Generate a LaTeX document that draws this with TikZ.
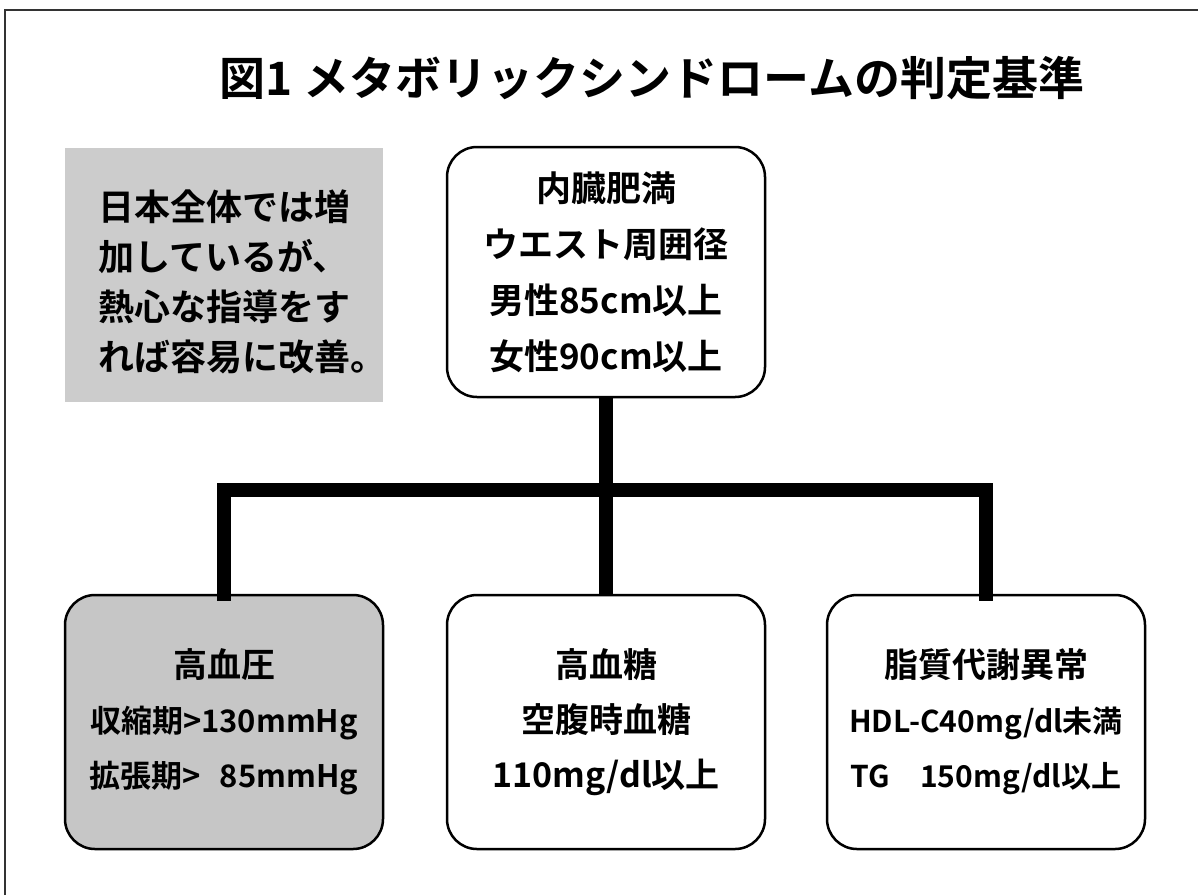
\documentclass[tikz,border=0pt]{standalone}
\usepackage{fontspec}
\setmainfont{Noto Sans CJK JP}[BoldFont={* Bold}]
\begin{document}
\begin{tikzpicture}[x=1pt,y=-1pt,
  rbox/.style={draw=black, line width=2.5pt, rounded corners=30pt, minimum width=318pt, minimum height=254pt, inner sep=0pt, align=center},
  gbox/.style={fill=gray!45},
  conn/.style={line width=14pt, line cap=butt},
  boxfont/.style={font=\bfseries\fontsize{35}{56}\selectfont},
  lowfont/.style={font=\bfseries\fontsize{34}{55}\selectfont}]
\useasboundingbox (0,0) rectangle (1198,895);
% frame
\draw[line width=2pt, color=black!80] (5,895) -- (5,10) -- (1198,10);
% title
\node[font=\bfseries\fontsize{46}{50}\selectfont, anchor=base] (title) at (652,95) {図1 メタボリックシンドロームの判定基準};
% note box
\node[fill=gray!40, minimum width=318pt, minimum height=254pt, anchor=north west, inner sep=0pt] (note) at (65,148) {};
\node[boxfont, font=\bfseries\fontsize{36}{50}\selectfont, align=left, anchor=west] (notetext) at (95,282) {日本全体では増\\加しているが、\\熱心な指導をす\\れば容易に改善。};
% top node
\node[rbox, boxfont, minimum height=250pt] (top) at (606,272) {内臓肥満\\ウエスト周囲径\\男性85cm以上\\女性90cm以上};
% bottom nodes
\node[rbox, gbox, lowfont] (bp) at (224,722) {高血圧\\{\fontsize{31}{55}\selectfont 収縮期>130mmHg}\\{\fontsize{31}{55}\selectfont 拡張期>\hspace{0.6em}85mmHg}};
\node[rbox, lowfont] (bs) at (606,722) {高血糖\\空腹時血糖\\110mg/dl以上};
\node[rbox, lowfont] (lp) at (986,722) {脂質代謝異常\\{\fontsize{30}{55}\selectfont HDL-C40mg/dl未満}\\{\fontsize{30}{55}\selectfont TG\hspace{1em}150mg/dl以上}};
% connectors
\coordinate (hub) at (606,490);
\draw[conn] (top.south) -- (bs.north);
\draw[conn, line cap=rect] (bp.north) |- (hub) -| (lp.north);
\end{tikzpicture}
\end{document}
